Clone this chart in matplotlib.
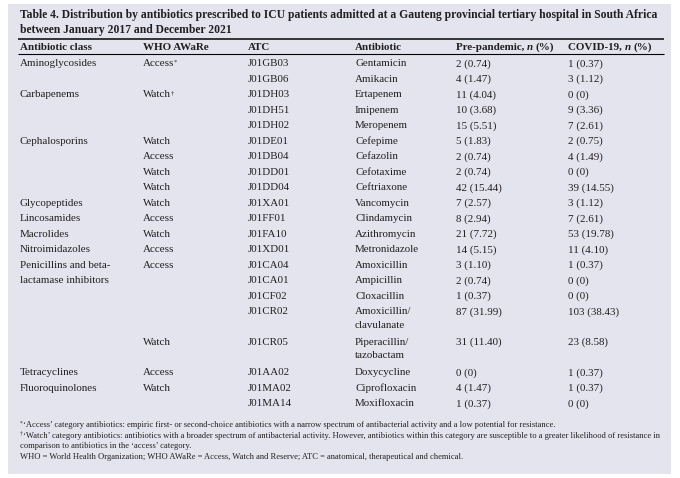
import matplotlib
matplotlib.use("Agg")
import matplotlib.pyplot as plt
from matplotlib.patches import Rectangle

# ---------------- data ----------------
title_lines = [
    "Table 4. Distribution by antibiotics prescribed to ICU patients admitted at a Gauteng provincial tertiary hospital in South Africa",
    "between January 2017 and December 2021",
]
headers = ["Antibiotic class", "WHO AWaRe", "ATC", "Antibiotic", "Pre-pandemic, ", "COVID-19, "]

antibiotic_class = ["Aminoglycosides", "", "Carbapenems", "", "", "Cephalosporins", "", "", "",
                    "Glycopeptides", "Lincosamides", "Macrolides", "Nitroimidazoles",
                    "Penicillins and beta-\nlactamase inhibitors", "", "", "", "",
                    "Tetracyclines", "Fluoroquinolones", ""]
who_aware = ["Access", "", "Watch", "", "", "Watch", "Access", "Watch", "Watch",
             "Watch", "Access", "Watch", "Access", "Access", "", "", "", "Watch",
             "Access", "Watch", ""]
aware_mark = ["*", "", "\u2020", "", "", "", "", "", "", "", "", "", "", "", "", "", "", "", "", "", ""]
atc = ["J01GB03", "J01GB06", "J01DH03", "J01DH51", "J01DH02", "J01DE01", "J01DB04", "J01DD01",
       "J01DD04", "J01XA01", "J01FF01", "J01FA10", "J01XD01", "J01CA04", "J01CA01", "J01CF02",
       "J01CR02", "J01CR05", "J01AA02", "J01MA02", "J01MA14"]
antibiotic = ["Gentamicin", "Amikacin", "Ertapenem", "Imipenem", "Meropenem", "Cefepime",
              "Cefazolin", "Cefotaxime", "Ceftriaxone", "Vancomycin", "Clindamycin",
              "Azithromycin", "Metronidazole", "Amoxicillin", "Ampicillin", "Cloxacillin",
              "Amoxicillin/\nclavulanate", "Piperacillin/\ntazobactam", "Doxycycline",
              "Ciprofloxacin", "Moxifloxacin"]
pre_n = [2, 4, 11, 10, 15, 5, 2, 2, 42, 7, 8, 21, 14, 3, 2, 1, 87, 31, 0, 4, 1]
pre_pct = [0.74, 1.47, 4.04, 3.68, 5.51, 1.83, 0.74, 0.74, 15.44, 2.57, 2.94, 7.72, 5.15,
           1.10, 0.74, 0.37, 31.99, 11.40, 0, 1.47, 0.37]
covid_n = [1, 3, 0, 9, 7, 2, 4, 0, 39, 3, 7, 53, 11, 1, 0, 0, 103, 23, 1, 1, 0]
covid_pct = [0.37, 1.12, 0, 3.36, 2.61, 0.75, 1.49, 0, 14.55, 1.12, 2.61, 19.78, 4.10,
             0.37, 0, 0, 38.43, 8.58, 0.37, 0.37, 0]

footnotes = [
    [("*", True), ("\u2018Access\u2019 category antibiotics: empiric first- or second-choice antibiotics with a narrow spectrum of antibacterial activity and a low potential for resistance.", False)],
    [("\u2020", True), ("\u2018Watch\u2019 category antibiotics: antibiotics with a broader spectrum of antibacterial activity. However, antibiotics within this category are susceptible to a greater likelihood of resistance in", False)],
    [("comparison to antibiotics in the \u2018access\u2019 category.", False)],
    [("WHO = World Health Organization; WHO AWaRe = Access, Watch and Reserve; ATC = anatomical, therapeutical and chemical.", False)],
]

# ---------------- layout ----------------
W, H = 680, 478
BG = "#e3e4ee"
TXT = "#231f20"
SERIF = "Liberation Serif"
col_x = [20, 143, 248, 355, 456, 568]

fig = plt.figure(figsize=(W / 100, H / 100), dpi=100)
ax = fig.add_axes([0, 0, 1, 1])
ax.set_xlim(0, W)
ax.set_ylim(H, 0)
ax.axis("off")
renderer = fig.canvas.get_renderer()
PX = 72 / 100  # points per pixel


def text_width(s, size, **kw):
    t = ax.text(0, 0, s, fontsize=size, family=SERIF, **kw)
    bb = t.get_window_extent(renderer=renderer)
    t.remove()
    return bb.width


def adv(s, size, **kw):
    return text_width(s + "x", size, **kw) - text_width("x", size, **kw)


def fit(s, target, **kw):
    return 10 * target / text_width(s, 10, **kw)


def put(x, y, s, size, **kw):
    ax.text(x, y, s, fontsize=size, family=SERIF, color=TXT, va="baseline", ha="left", **kw)


ax.add_patch(Rectangle((8, 4), 663, 470, facecolor=BG, edgecolor="none"))

# title
tsize = fit(title_lines[0], 638, weight="bold")
put(20, 18, title_lines[0], tsize, weight="bold")
put(20, 32.5, title_lines[1], tsize, weight="bold")

# rules
ax.plot([18, 664], [38.5, 38.5], color="black", lw=1.5 * PX, solid_capstyle="butt")
ax.plot([18, 664], [53.8, 53.8], color="black", lw=1.1 * PX, solid_capstyle="butt")

bsize = fit("Fluoroquinolones", 77)
hsize = bsize

# header
hb = 50
for i in range(4):
    put(col_x[i], hb, headers[i], hsize, weight="bold")
for i in (4, 5):
    x = col_x[i]
    put(x, hb, headers[i], hsize, weight="bold")
    x += adv(headers[i], hsize, weight="bold")
    put(x, hb, "n", hsize, weight="bold", style="italic")
    x += adv("n ", hsize, weight="bold", style="italic")
    put(x, hb, "(%)", hsize, weight="bold")


def fmt(n, p):
    return "0 (0)" if n == 0 else f"{n} ({p:.2f})"


pitch = 15.5
inner = 13.5
extra = 1.5
y = 63.0
off = 3.4
for r in range(len(atc)):
    base = y + off
    cls = antibiotic_class[r].split("\n")
    for k, line in enumerate(cls):
        put(col_x[0], base + k * pitch, line, bsize)
    if who_aware[r]:
        put(col_x[1], base, who_aware[r], bsize)
        if aware_mark[r]:
            xm = col_x[1] + adv(who_aware[r], bsize)
            put(xm - 0.3, base - 2.8, aware_mark[r], bsize * 0.6)
    put(col_x[2], base, atc[r], bsize)
    ab = antibiotic[r].split("\n")
    for k, line in enumerate(ab):
        put(col_x[3], base + k * inner, line, bsize)
    put(col_x[4], base, fmt(pre_n[r], pre_pct[r]), bsize)
    put(col_x[5], base, fmt(covid_n[r], covid_pct[r]), bsize)
    y += pitch + (inner + extra) * (len(ab) - 1)

# footnotes
fsize = fit(footnotes[1][1][0], 628)
fy = [427, 438, 448.5, 459]
for line, yy in zip(footnotes, fy):
    x = 20
    for s, sup in line:
        if sup:
            put(x, yy - 2.5, s, fsize * 0.65)
            x += adv(s, fsize * 0.65)
        else:
            put(x, yy, s, fsize)
            x += adv(s, fsize)

fig.savefig("out.png", dpi=100, facecolor="white")
